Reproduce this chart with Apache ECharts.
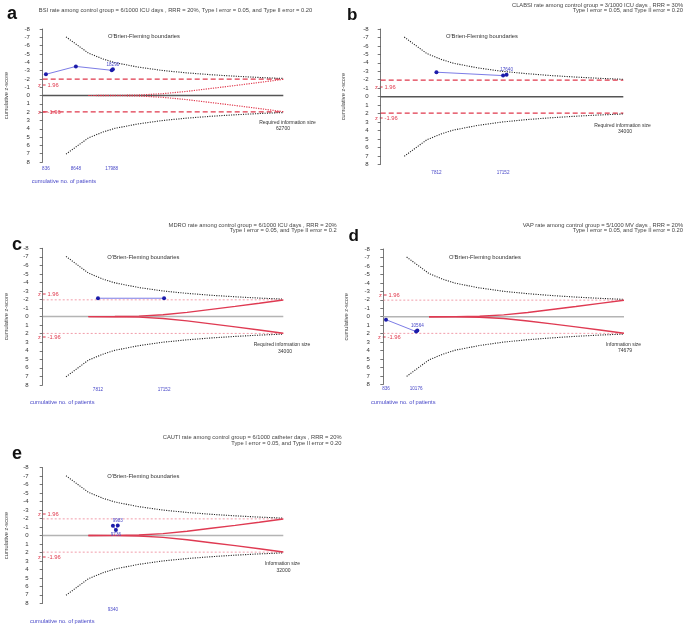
<!DOCTYPE html>
<html><head><meta charset="utf-8">
<script src="https://cdn.jsdelivr.net/npm/echarts@6/dist/echarts.min.js"></script>
<style>html,body{margin:0;padding:0;background:#fff}#c{width:685px;height:627px}</style>
</head><body><div id="c"></div>
<script>
// ---------- data ----------
const risA = 62700, risB = 34000, risC = 34000, risD = 74679, risE = 32000;

const patientsA = [836, 8648, 17988, 18290];
const zA = [-2.55, -3.5, -3.03, -3.15];
const patientsB = [7812, 17152, 17640];
const zB = [-2.89, -2.49, -2.6];
const patientsC = [7812, 17152];
const zC = [-2.15, -2.15];
const patientsD = [836, 10176, 10564];
const zD = [0.35, 1.76, 1.64];
const patientsE = [9340, 9736, 9983];
const zE = [-1.14, -0.64, -1.18];

// patient counts printed under the axis
const xTicksA = [836, 8648, 17988];
const xTicksB = [7812, 17152];
const xTicksC = [7812, 17152];
const xTicksD = [836, 10176];
const xTicksE = [9340];

// O'Brien-Fleming boundary (information fraction, |z|)
const obfFrac = [0.097, 0.19, 0.25, 0.3, 0.4, 0.5, 0.6, 0.7, 0.8, 0.9, 1.0];
const obfZ    = [7.05, 5.1, 4.4, 3.95, 3.4, 3.0, 2.72, 2.5, 2.32, 2.17, 2.05];
// inner (futility) boundary
const futFrac = [0.19, 0.3, 0.4, 0.5, 0.6, 0.7, 0.8, 0.9, 1.0];
const futZ    = [0.0, 0.01, 0.06, 0.22, 0.5, 0.85, 1.2, 1.57, 1.95];

const zCrit = 1.96;

const titlesA = ['BSI rate among control group = 6/1000 ICU days , RRR = 20%, Type I error = 0.05, and Type II error = 0.20'];
const titlesB = ['CLABSI rate among control group = 3/1000 ICU days , RRR = 30%', 'Type I error = 0.05, and Type II error = 0.20'];
const titlesC = ['MDRO rate among control group = 6/1000 ICU days , RRR = 20%', 'Type I error = 0.05, and Type II error = 0.2'];
const titlesD = ['VAP rate among control group = 5/1000 MV days , RRR = 20%', 'Type I error = 0.05, and Type II error = 0.20'];
const titlesE = ['CAUTI rate among control group = 6/1000 catheter days , RRR = 20%', 'Type I error = 0.05, and Type II error = 0.20'];

// ---------- styles ----------
const FONT = '"Liberation Sans", Arial, Helvetica, sans-serif';
const BLUE = '#4848c8';
const RED = '#e0384c';
const TS = 5.75;

const grids = [], xAxes = [], yAxes = [], series = [], graphics = [];

function txt(x, y, text, o) {
  o = o || {};
  graphics.push({
    type: 'text', x: x, y: y, silent: true,
    style: {
      text: text, fill: o.color || '#333', font: (o.weight || 'normal') + ' ' + (o.size || 5.8) + 'px ' + FONT,
      textAlign: o.align || 'left', textVerticalAlign: o.valign || 'middle'
    }
  });
}

function line(i, data, ls, z) {
  series.push({
    type: 'line', xAxisIndex: i, yAxisIndex: i, data: data, symbol: 'none', silent: true,
    lineStyle: ls, z: z || 2, animation: false
  });
}

function panel(i, o) {
  grids.push({ left: o.left, top: o.top, width: o.width, height: o.height, outerBoundsMode: 'none' });
  xAxes.push({
    gridIndex: i, type: 'value', min: 0, max: o.ris,
    axisLine: { show: false }, axisTick: { show: false }, splitLine: { show: false },
    axisLabel: { customValues: o.xTicks, formatter: v => String(v), color: BLUE, fontSize: 4.6,
                 fontFamily: FONT, margin: o.xMargin }
  });
  yAxes.push({
    gridIndex: i, type: 'value', min: -8, max: 8, interval: 1, inverse: true, offset: o.yOffset,
    axisLine: { show: true, lineStyle: { color: '#555', width: 0.8 } },
    axisTick: { show: true, length: 3, lineStyle: { color: '#555', width: 0.8 } },
    axisLabel: { fontSize: 6, color: '#333', margin: 2.5, fontFamily: FONT, formatter: v => String(v) },
    splitLine: { show: false },
    name: 'cumulative z-score', nameLocation: 'middle', nameGap: o.nameGap,
    nameTextStyle: { fontSize: 5.7, color: '#444', fontFamily: FONT }
  });
  const ris = o.ris;
  const classic = o.style === 'classic';
  // zero line
  line(i, [[0, 0], [ris, 0]], { color: classic ? '#555' : '#b4b4b4', width: 1.5 }, 1);
  // +-1.96
  const critStyle = classic ? { color: RED, width: 1.3, type: [5, 3] }
                            : { color: '#ee8494', width: 0.8, type: [2, 2] };
  line(i, [[0, -zCrit], [ris, -zCrit]], critStyle, 2);
  line(i, [[0, zCrit], [ris, zCrit]], critStyle, 2);
  // outer O'Brien-Fleming
  const dot = { color: '#222', width: 1.1, type: [1.1, 1.3] };
  line(i, obfFrac.map((f, k) => [f * ris, -obfZ[k]]), dot, 3);
  line(i, obfFrac.map((f, k) => [f * ris, obfZ[k]]), dot, 3);
  // inner boundaries
  if (o.inner === 'dotted') {
    const rd = { color: RED, width: 1.2, type: [1.2, 1.2] };
    line(i, futFrac.map((f, k) => [f * ris, -futZ[k]]), rd, 3);
    line(i, futFrac.map((f, k) => [f * ris, futZ[k]]), rd, 3);
  } else if (o.inner === 'solid') {
    const rs = { color: '#df3a52', width: 1.4 };
    line(i, futFrac.map((f, k) => [f * ris, -futZ[k]]), rs, 3);
    line(i, futFrac.map((f, k) => [f * ris, futZ[k]]), rs, 3);
  }
  // cumulative z-curve
  series.push({
    type: 'line', xAxisIndex: i, yAxisIndex: i, silent: true, animation: false, z: 5,
    symbol: 'circle', symbolSize: 4, showSymbol: true,
    itemStyle: { color: '#1c1caa' },
    lineStyle: { color: '#7c7ce6', width: 1 },
    data: o.px.map((p, k) => {
      const item = { value: [p, o.pz[k]] };
      if (o.labels && o.labels[k]) {
        item.label = { show: true, position: o.labels[k], distance: 0.5, formatter: String(p),
                       color: BLUE, fontSize: 4.6, fontFamily: FONT };
      }
      return item;
    })
  });
}

panel(0, { ris: risA, px: patientsA, pz: zA, xTicks: xTicksA, labels: [null, null, null, 'top'],
  left: 42.7, top: 29, width: 240.6, height: 133, yOffset: 10.4, xMargin: 4, nameGap: 22.5,
  style: 'classic', inner: 'dotted' });
panel(1, { ris: risB, px: patientsB, pz: zB, xTicks: xTicksB, labels: [null, null, 'top'],
  left: 380.7, top: 29, width: 242.6, height: 135.3, yOffset: 9.7, xMargin: 5.7, nameGap: 24.5,
  style: 'classic', inner: 'none' });
panel(2, { ris: risC, px: patientsC, pz: zC, xTicks: xTicksC, labels: [],
  left: 42.7, top: 248.3, width: 240.6, height: 136.6, yOffset: 11.7, xMargin: 2.1, nameGap: 21.5,
  style: 'modern', inner: 'solid' });
panel(3, { ris: risD, px: patientsD, pz: zD, xTicks: xTicksD, labels: [null, null, 'top'],
  left: 383.3, top: 249, width: 240.7, height: 135.4, yOffset: 11, xMargin: 1.6, nameGap: 23,
  style: 'modern', inner: 'solid' });
panel(4, { ris: risE, px: patientsE, pz: zE, xTicks: xTicksE, labels: [null, 'bottom', 'top'],
  left: 42.7, top: 467.7, width: 240.6, height: 135.6, yOffset: 11.7, xMargin: 3.7, nameGap: 21.5,
  style: 'modern', inner: 'solid' });

// ---------- texts ----------
// panel letters
txt(7, 23.5, 'a', { size: 18, weight: 'bold', color: '#111', valign: 'bottom' });
txt(347, 24, 'b', { size: 17, weight: 'bold', color: '#111', valign: 'bottom' });
txt(12, 254.5, 'c', { size: 18, weight: 'bold', color: '#111', valign: 'bottom' });
txt(348.5, 244.5, 'd', { size: 17, weight: 'bold', color: '#111', valign: 'bottom' });
txt(12, 463.5, 'e', { size: 18, weight: 'bold', color: '#111', valign: 'bottom' });

// titles
txt(175.5, 10, titlesA[0], { size: TS, align: 'center', color: '#444' });
txt(683, 5, titlesB[0], { size: TS, align: 'right', color: '#444' });
txt(683, 10.8, titlesB[1], { size: TS, align: 'right', color: '#444' });
txt(336.7, 225, titlesC[0], { size: TS, align: 'right', color: '#444' });
txt(336.7, 230.8, titlesC[1], { size: TS, align: 'right', color: '#444' });
txt(683, 225, titlesD[0], { size: TS, align: 'right', color: '#444' });
txt(683, 230.8, titlesD[1], { size: TS, align: 'right', color: '#444' });
txt(341.5, 437.3, titlesE[0], { size: TS, align: 'right', color: '#444' });
txt(341.5, 443, titlesE[1], { size: TS, align: 'right', color: '#444' });

// O'Brien-Fleming boundaries
const OBF = "O'Brien-Fleming boundaries";
txt(144, 36.7, OBF, { align: 'center', color: '#333' });
txt(482, 36.7, OBF, { align: 'center', color: '#333' });
txt(143.3, 257.3, OBF, { align: 'center', color: '#333' });
txt(485, 257.3, OBF, { align: 'center', color: '#333' });
txt(143.3, 476.7, OBF, { align: 'center', color: '#333' });

// z = +-1.96
const zp = 'z = 1.96', zm = 'z = -1.96';
[[38, 85, 38, 112.3], [375, 87.7, 375, 118.3], [38, 294, 38, 337.3], [379, 295.7, 378, 337.3], [38, 514.3, 38, 557.3]]
  .forEach(a => { txt(a[0], a[1], zp, { color: RED }); txt(a[2], a[3], zm, { color: RED }); });

// information size
const IS = 5.0;
txt(287.5, 122.3, 'Required information size', { align: 'center', size: IS });
txt(283, 128.5, String(risA), { align: 'center', size: IS });
txt(622.5, 125.7, 'Required information size', { align: 'center', size: IS });
txt(625, 131.9, String(risB), { align: 'center', size: IS });
txt(282, 345, 'Required information size', { align: 'center', size: IS });
txt(285, 351.2, String(risC), { align: 'center', size: IS });
txt(623.5, 344.3, 'Information size', { align: 'center', size: IS });
txt(625, 350.5, String(risD), { align: 'center', size: IS });
txt(282.5, 564, 'Information size', { align: 'center', size: IS });
txt(283.5, 570.2, String(risE), { align: 'center', size: IS });

// x-axis caption
const CUM = 'cumulative no. of patients';
txt(31.7, 181.7, CUM, { color: BLUE, size: 5.7 });
txt(30, 402.3, CUM, { color: BLUE, size: 5.7 });
txt(371, 402.3, CUM, { color: BLUE, size: 5.7 });
txt(30, 621.7, CUM, { color: BLUE, size: 5.7 });

const chart = echarts.init(document.getElementById('c'), null, { renderer: 'canvas' });
chart.setOption({
  animation: false,
  backgroundColor: '#fff',
  textStyle: { fontFamily: FONT },
  grid: grids, xAxis: xAxes, yAxis: yAxes, series: series, graphic: graphics
});
</script></body></html>
